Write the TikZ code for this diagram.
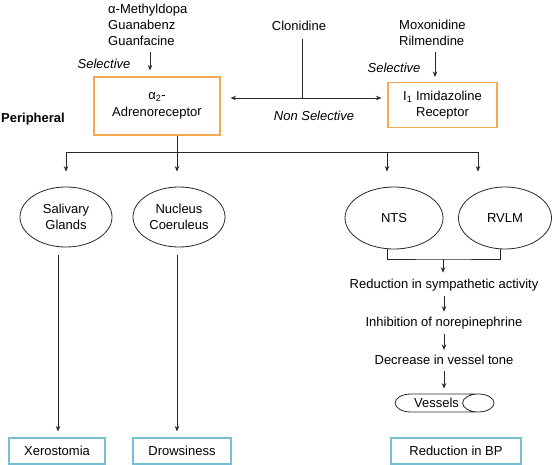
\documentclass[tikz,border=0pt]{standalone}
\usepackage{fontspec}
\setmainfont{Liberation Sans}
\usetikzlibrary{shapes.geometric,arrows.meta}
\definecolor{orbox}{RGB}{245,168,84}
\definecolor{blbox}{RGB}{118,190,212}
\definecolor{ln}{RGB}{40,40,40}
\begin{document}
\begin{tikzpicture}[x=1pt,y=-1pt,
  every node/.style={font=\fontsize{13}{16}\selectfont, text=black, inner sep=0pt},
  arr/.style={draw=ln, line width=0.8pt, -{Stealth[length=5.5pt,width=4.5pt]}},
  lin/.style={draw=ln, line width=0.8pt},
  obox/.style={draw=orbox, line width=1.1pt, align=center},
  bbox/.style={draw=blbox, line width=1.1pt, align=center},
  ell/.style={draw=ln, line width=0.8pt, ellipse, align=center},
  lbl/.style={font=\fontsize{13}{16}\selectfont\itshape}]
\useasboundingbox (0,0) rectangle (552,465);
% drugs
\node[align=left, anchor=west] (alphadrugs) at (108,25) {α-Methyldopa\\Guanabenz\\Guanfacine};
\node (clon) at (299,26) {Clonidine};
\node[align=left, anchor=west] (imdrugs) at (399,33) {Moxonidine\\Rilmendine};
% receptors
\node[obox, minimum width=126pt, minimum height=58pt] (alpha) at (157,106) {α\textsubscript{2}-\\[1pt]Adrenorecepto\raisebox{1pt}{r}};
\node[obox, minimum width=109pt, minimum height=45pt] (imid) at (442.5,105) {I\textsubscript{1} Imidazoline\\Receptor};
\node[lbl] (sel1) at (104,64) {Selective};
\node[lbl] (sel2) at (394,68) {Selective};
\node[lbl] (nonsel) at (314,116) {Non Selective};
\node[font=\fontsize{13}{16}\selectfont\bfseries] (periph) at (33,119) {Peripheral};
% ellipses
\node[ell, minimum width=92pt, minimum height=60pt] (sal) at (66,217) {Salivary\\Glands};
\node[ell, minimum width=92pt, minimum height=60pt] (nuc) at (179,217) {Nucleus\\Coeruleus};
\node[ell, minimum width=98pt, minimum height=62pt] (nts) at (394,218) {NTS};
\node[ell, minimum width=93pt, minimum height=62pt] (rvlm) at (505,218) {RVLM};
% chain
\node (red) at (444,285) {Reduction in sympathetic activity};
\node (inh) at (444,323) {Inhibition of norepinephrine};
\node (dec) at (444,360) {Decrease in vessel tone};
\node[draw=ln, line width=0.8pt, cylinder, aspect=3.3, minimum width=18pt, minimum height=99pt, shape border rotate=0, inner xsep=2pt] (ves) at (436.5,403) {Vessels};
% outcomes
\node[bbox, minimum width=96pt, minimum height=26pt] (xero) at (57,451) {Xerostomia};
\node[bbox, minimum width=98pt, minimum height=26pt] (drow) at (182,451) {Drowsiness};
\node[bbox, minimum width=130pt, minimum height=26pt] (bp) at (456,451) {Reduction in BP};
% connectors top
\draw[arr, shorten <=6pt, shorten >=6pt] (alphadrugs.south -| alpha.north) ++(-7,0) coordinate (a1) -- (a1 |- alpha.north);
\coordinate (j) at (302,98);
\draw[lin] ([yshift=-8pt]clon.south -| j) -- (j);
\draw[arr, shorten >=10pt] (j) -- (j -| alpha.east);
\draw[arr, shorten >=6pt] (j) -- (j -| imid.west);
\coordinate (m1) at (435,52);
\draw[arr, shorten >=5pt] (m1) -- (m1 |- imid.north);
% bus
\coordinate (bus) at (177,152);
\coordinate (b1) at (66,152);
\coordinate (b3) at (387,152);
\coordinate (b4) at (478,152);
\draw[lin] (bus |- alpha.south) -- (bus);
\draw[lin] (b1) -- (b4);
\draw[arr, shorten >=15pt] (b1) -- (b1 |- sal.north);
\draw[arr, shorten >=15pt] (bus) -- (bus |- nuc.north);
\draw[arr, shorten >=15pt] (b3) -- (b3 |- nts.north);
\draw[arr, shorten >=15pt] (b4) -- (b4 |- rvlm.north);
% down to outcomes
\coordinate (d1) at (58,0);
\draw[arr, shorten <=8pt, shorten >=6pt] (d1 |- sal.south) -- (d1 |- xero.north);
\coordinate (d2) at (177,0);
\draw[arr, shorten <=8pt, shorten >=6pt] (d2 |- nuc.south) -- (d2 |- drow.north);
% merge
\coordinate (m2) at (443,259);
\draw[lin] ([xshift=-7pt]nts.south) |- (m2) -| ([xshift=-5pt]rvlm.south);
\draw[arr, shorten >=6pt] (m2) -- (m2 |- red.north);
\draw[arr, shorten <=5pt, shorten >=5pt] (red.south) -- (inh.north);
\draw[arr, shorten <=5pt, shorten >=5pt] (inh.south) -- (dec.north);
\draw[arr, shorten <=6pt, shorten >=5pt] (dec.south) -- (dec.south |- ves.north);
\end{tikzpicture}
\end{document}
